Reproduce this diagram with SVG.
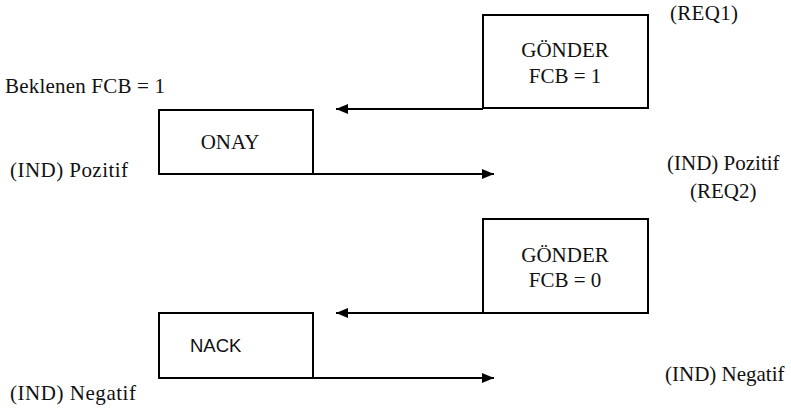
<svg xmlns="http://www.w3.org/2000/svg" width="791" height="411" viewBox="0 0 791 411">
  <style>
    .box { fill: #fff; stroke: #000; stroke-width: 2; }
    .wire { fill: none; stroke: #000; stroke-width: 2; }
    .t { font-family: 'Liberation Serif', serif; font-size: 21px; fill: #111; }
    .s { font-family: 'Liberation Sans', sans-serif; font-size: 18.5px; fill: #111; }
    .c { text-anchor: middle; }
  </style>
  <defs>
    <marker id="arrow" markerWidth="12" markerHeight="10" refX="12" refY="5" orient="auto" markerUnits="userSpaceOnUse">
      <path d="M0,0 L12,5 L0,10 Z" fill="#000"/>
    </marker>
  </defs>
  <rect width="791" height="411" fill="#fff"/>

  <g id="connectors">
    <line class="wire" x1="483" y1="109" x2="336" y2="109" marker-end="url(#arrow)"/>
    <line class="wire" x1="313" y1="174" x2="494" y2="174" marker-end="url(#arrow)"/>
    <line class="wire" x1="483" y1="313" x2="336" y2="313" marker-end="url(#arrow)"/>
    <line class="wire" x1="313" y1="378" x2="494" y2="378" marker-end="url(#arrow)"/>
  </g>

  <g id="gonder1">
    <rect class="box" x="483" y="15" width="165" height="93"/>
    <text class="t c" x="565" y="57">GÖNDER</text>
    <text class="t c" x="565" y="83">FCB = 1</text>
  </g>

  <g id="onay">
    <rect class="box" x="159" y="110" width="154" height="64"/>
    <text class="t c" x="230" y="149">ONAY</text>
  </g>

  <g id="gonder0">
    <rect class="box" x="483" y="219" width="165" height="94"/>
    <text class="t c" x="565" y="262">GÖNDER</text>
    <text class="t c" x="565" y="287">FCB = 0</text>
  </g>

  <g id="nack">
    <rect class="box" x="159" y="313" width="154" height="65"/>
    <text class="s" x="190" y="352">NACK</text>
  </g>

  <g id="labels">
    <text class="t" x="670" y="20" textLength="68">(REQ1)</text>
    <text class="t" x="5" y="93" textLength="160">Beklenen FCB = 1</text>
    <text class="t" x="10" y="177" textLength="118">(IND) Pozitif</text>
    <text class="t" x="667" y="170">(IND) Pozitif</text>
    <text class="t" x="690" y="198">(REQ2)</text>
    <text class="t" x="665" y="381">(IND) Negatif</text>
    <text class="t" x="10" y="400" textLength="126">(IND) Negatif</text>
  </g>
</svg>
